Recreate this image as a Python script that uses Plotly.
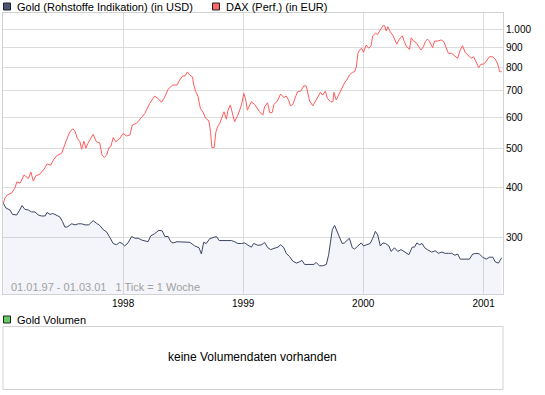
import numpy as np
import pandas as pd
import plotly.graph_objects as go

START = "1997-01-01"
END = "2001-03-01"

# Days since 01.01.1997 and values (gold in USD, DAX performance rebased to gold's start)
gold_days = [1, 9, 21, 29, 42, 49, 58, 67, 77, 87, 97, 107, 117, 128, 134, 143, 151, 161, 173, 181,
             188, 195, 209, 219, 229, 239, 249, 261, 274, 284, 294, 305, 315, 325, 335, 345, 355, 362,
             370, 380, 391, 401, 411, 421, 431, 441, 449, 461, 474, 484, 492, 502, 510, 517, 529, 543,
             558, 568, 583, 596, 603, 610, 618, 628, 638, 649, 657, 669, 681, 694, 704, 714, 725, 735,
             745, 755, 762, 775, 787, 795, 805, 814, 824, 836, 844, 854, 861, 871, 881, 892, 902, 909,
             917, 932, 945, 952, 962, 972, 983, 990, 996, 1001, 1008, 1016, 1023, 1031, 1038, 1045,
             1053, 1062, 1069, 1079, 1089, 1096, 1106, 1116, 1124, 1132, 1139, 1147, 1155, 1163, 1173,
             1180, 1190, 1200, 1210, 1220, 1234, 1244, 1251, 1258, 1266, 1274, 1282, 1290, 1303, 1314,
             1324, 1334, 1344, 1354, 1364, 1374, 1382, 1390, 1403, 1418, 1428, 1441, 1448, 1458, 1469,
             1479, 1489, 1496, 1506, 1516]
gold_values = [365, 355, 351, 342, 341, 349, 360, 352, 351, 347, 347, 341, 339, 339, 346, 342, 344, 341,
               337, 328, 318, 318, 324, 322, 324, 324, 322, 322, 330, 325, 321, 313, 309, 299, 289, 287,
               291, 289, 285, 290, 301, 298, 298, 295, 294, 292, 302, 306, 312, 311, 301, 301, 292, 290,
               292, 292, 292, 291, 285, 282, 272, 291, 289, 297, 299, 301, 294, 294, 295, 294, 292, 289,
               289, 290, 286, 283, 289, 286, 287, 291, 282, 279, 281, 283, 287, 282, 273, 268, 261, 258,
               260, 262, 256, 256, 256, 259, 254, 254, 256, 271, 292, 313, 321, 309, 299, 289, 290, 294,
               298, 282, 280, 285, 290, 285, 287, 289, 298, 310, 304, 285, 290, 289, 285, 276, 282, 276,
               279, 276, 271, 283, 283, 290, 287, 289, 282, 279, 275, 277, 273, 275, 273, 273, 273, 270,
               272, 264, 264, 264, 272, 273, 272, 267, 264, 267, 267, 260, 258, 266]

dax_days = [1, 6, 13, 26, 36, 42, 52, 64, 77, 85, 92, 100, 112, 125, 134, 145, 153, 165, 178, 186, 193,
            203, 212, 219, 226, 234, 239, 246, 252, 258, 274, 284, 294, 301, 308, 315, 322, 328, 335, 343,
            355, 365, 376, 386, 393, 406, 421, 431, 446, 461, 471, 482, 492, 502, 516, 529, 537, 546, 553,
            561, 568, 576, 580, 586, 593, 600, 608, 616, 626, 631, 635, 642, 647, 652, 659, 667, 672, 679,
            684, 691, 697, 704, 714, 725, 732, 738, 743, 748, 755, 765, 774, 780, 790, 795, 804, 811, 818,
            824, 834, 844, 854, 861, 868, 874, 881, 889, 895, 905, 915, 922, 927, 932, 942, 952, 965, 972,
            980, 986, 996, 1003, 1006, 1013, 1020, 1026, 1032, 1039, 1045, 1053, 1062, 1069, 1074, 1079,
            1084, 1090, 1096, 1104, 1112, 1119, 1124, 1132, 1139, 1147, 1155, 1160, 1165, 1170, 1177, 1185,
            1193, 1197, 1205, 1214, 1220, 1227, 1236, 1241, 1248, 1258, 1266, 1271, 1278, 1284, 1290, 1296,
            1306, 1312, 1322, 1332, 1340, 1347, 1354, 1364, 1374, 1382, 1390, 1397, 1405, 1415, 1423, 1431,
            1438, 1446, 1453, 1461, 1468, 1479, 1489, 1496, 1504, 1510, 1516]
dax_values = [365, 376, 383, 387, 398, 413, 410, 430, 421, 437, 415, 428, 432, 445, 458, 455, 469, 482,
              487, 511, 526, 551, 562, 554, 531, 521, 499, 523, 502, 516, 544, 521, 518, 482, 476, 482, 504,
              507, 534, 521, 531, 547, 539, 542, 574, 580, 601, 614, 651, 679, 670, 655, 676, 707, 724, 724,
              745, 763, 763, 781, 767, 759, 724, 697, 677, 632, 619, 597, 588, 551, 504, 504, 551, 568, 580,
              608, 620, 594, 626, 645, 614, 585, 608, 645, 690, 664, 626, 638, 657, 647, 630, 620, 608, 638,
              653, 617, 617, 647, 660, 687, 673, 679, 664, 642, 647, 676, 696, 699, 721, 720, 694, 660, 642,
              664, 694, 683, 699, 670, 657, 657, 694, 664, 683, 699, 720, 735, 745, 767, 779, 782, 804, 870,
              887, 896, 875, 913, 896, 909, 963, 977, 971, 996, 1021, 1021, 990, 1015, 986, 967, 931, 917,
              945, 963, 931, 904, 890, 952, 934, 922, 899, 887, 904, 931, 945, 934, 899, 934, 934, 940, 931,
              904, 870, 870, 858, 845, 887, 909, 875, 858, 845, 853, 829, 801, 817, 817, 829, 853, 853, 842,
              817, 782, 782]

year_ticks = ["1998-01-01", "1999-01-01", "2000-01-01", "2001-01-01"]
year_labels = ["1998", "1999", "2000", "2001"]
y_ticks = [300, 400, 500, 600, 700, 800, 900, 1000]
y_labels = ["300", "400", "500", "600", "700", "800", "900", "1.000"]

t0 = pd.Timestamp(START)
gold_dates = t0 + pd.to_timedelta(gold_days, unit="D")
dax_dates = t0 + pd.to_timedelta(dax_days, unit="D")

FONT = "Liberation Sans, Arial, sans-serif"
GOLD = "#3c4664"
DAX = "#ff5c5c"
GRID = "#dcdcdc"
BORDER = "#d2d2d2"

W, H = 545, 395
ML, MR, MT, MB = 3, 42, 13, 5
PW = W - ML - MR
PH = H - MT - MB


def px_y(py):
    return (H - MB - py) / PH


def px_x(px):
    return (px - ML) / PW


fig = go.Figure()
fig.add_trace(go.Scatter(x=gold_dates, y=gold_values, mode="lines",
                         line=dict(color=GOLD, width=1), fill="tozeroy",
                         fillcolor="rgba(70,80,170,0.06)", hoverinfo="skip"))
fig.add_trace(go.Scatter(x=dax_dates, y=dax_values, mode="lines",
                         line=dict(color=DAX, width=1), hoverinfo="skip"))

main_bottom = px_y(294)

fig.update_layout(
    width=W, height=H,
    margin=dict(l=ML, r=MR, t=MT, b=MB, autoexpand=False),
    paper_bgcolor="white", plot_bgcolor="white",
    showlegend=False,
    separators=",.",
    font=dict(family=FONT, size=10, color="#000"),
    xaxis=dict(type="date", range=[START, END], domain=[0, 1],
               tickvals=year_ticks, ticktext=year_labels,
               showgrid=True, gridcolor=GRID, gridwidth=1,
               showline=True, linecolor=BORDER, linewidth=1, mirror=True,
               ticks="", zeroline=False, tickfont=dict(size=10, family=FONT, color="#000"),
               anchor="y", automargin=False),
    yaxis=dict(type="log", side="right", domain=[main_bottom, 1],
               range=[np.log10(215.7), np.log10(1099)],
               tickvals=y_ticks, ticktext=y_labels,
               showgrid=True, gridcolor=GRID, gridwidth=1,
               showline=True, linecolor=BORDER, linewidth=1, mirror=True,
               ticks="", zeroline=False, automargin=False,
               tickfont=dict(size=10, family=FONT, color="#000")),
)

shapes = [
    # legend squares
    dict(type="rect", xref="paper", yref="paper", x0=px_x(3.5), x1=px_x(10.5), y0=px_y(10), y1=px_y(3),
         fillcolor="#4a5578", line=dict(color="#222", width=1)),
    dict(type="rect", xref="paper", yref="paper", x0=px_x(212.5), x1=px_x(219.5), y0=px_y(10), y1=px_y(3),
         fillcolor="#ff6666", line=dict(color="#222", width=1)),
    dict(type="rect", xref="paper", yref="paper", x0=px_x(3.5), x1=px_x(10.5), y0=px_y(323), y1=px_y(316),
         fillcolor="#66cc66", line=dict(color="#222", width=1)),
    # volume panel box
    dict(type="rect", xref="paper", yref="paper", x0=0, x1=1, y0=px_y(389.5), y1=px_y(326.5),
         fillcolor="white", line=dict(color=BORDER, width=1)),
]

annotations = [
    dict(text="Gold (Rohstoffe Indikation) (in USD)", xref="paper", yref="paper",
         x=px_x(15), y=px_y(6.5), xanchor="left", yanchor="middle", showarrow=False,
         font=dict(size=11, family=FONT, color="#000")),
    dict(text="DAX (Perf.) (in EUR)", xref="paper", yref="paper",
         x=px_x(224), y=px_y(6.5), xanchor="left", yanchor="middle", showarrow=False,
         font=dict(size=11, family=FONT, color="#000")),
    dict(text="Gold Volumen", xref="paper", yref="paper",
         x=px_x(15), y=px_y(319.5), xanchor="left", yanchor="middle", showarrow=False,
         font=dict(size=11, family=FONT, color="#000")),
    dict(text="keine Volumendaten vorhanden", xref="paper", yref="paper",
         x=px_x(252), y=px_y(356.5), xanchor="center", yanchor="middle", showarrow=False,
         font=dict(size=12, family=FONT, color="#000")),
    dict(text="01.01.97 - 01.03.01&nbsp;&nbsp;&nbsp;1 Tick = 1 Woche", xref="paper", yref="paper",
         x=px_x(9), y=px_y(286.5), xanchor="left", yanchor="middle", showarrow=False,
         font=dict(size=11, family=FONT, color="#a0a0a0")),
]

fig.update_layout(shapes=shapes, annotations=annotations)

fig.write_html(
    "out.html",
    config={"displayModeBar": False},
    post_script="document.body.style.margin='0';document.body.style.padding='0';",
)
